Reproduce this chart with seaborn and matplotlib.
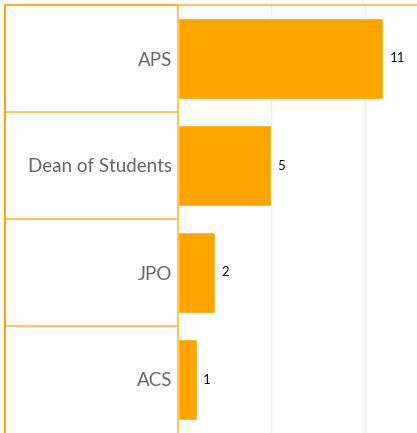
import matplotlib
matplotlib.use("Agg")
import matplotlib.pyplot as plt
import matplotlib.transforms as mtransforms
from matplotlib.lines import Line2D
import seaborn as sns
import pandas as pd

categories = ["APS", "Dean of Students", "JPO", "ACS"]
counts = [11, 5, 2, 1]

sns.set_theme(style="white")
plt.rcParams['font.family'] = ['Lato', 'DejaVu Sans']

W, H = 417, 433
fig = plt.figure(figsize=(W / 100, H / 100), dpi=100)
left_px, top_px = 178, 5
ax = fig.add_axes([left_px / W, 0, (W - left_px) / W, (H - top_px) / H])

df = pd.DataFrame({"cat": categories, "n": counts})
sns.barplot(data=df, y="cat", x="n", orient="h", color="#FFA500",
            saturation=1, width=0.75, ax=ax)

ax.set_xlim(0, 12.8)
ax.set_ylim(3.5, -0.5)
ax.set_xticks([5, 10])
ax.set_xticklabels([])
ax.tick_params(axis="x", length=0)
ax.grid(axis="x", color="#eeeeee", linewidth=1)
ax.set_axisbelow(True)
ax.set_xlabel("")
ax.set_ylabel("")
ax.tick_params(axis="y", length=0, pad=4, labelsize=13.5, labelcolor="#666666")

for s in ["right", "bottom"]:
    ax.spines[s].set_visible(False)
ax.spines["left"].set_color("#FFB84D")
ax.spines["left"].set_linewidth(1.2)
ax.spines["top"].set_color("#FFC266")
ax.spines["top"].set_linewidth(1.5)

for i, v in enumerate(counts):
    ax.text(v + 0.32, i, str(v), va="center", ha="left", fontsize=9.5, color="#111111")

# label column box
line_col = "#FFB84D"
x0 = 5 / W
x1 = left_px / W
trans = mtransforms.blended_transform_factory(fig.transFigure, ax.transData)
for yb in [0.5, 1.5, 2.5]:
    fig.add_artist(Line2D([x0, x1], [yb, yb], transform=trans, color=line_col, linewidth=1.2))
fig.add_artist(Line2D([x0, x0], [0, (H - top_px) / H], transform=fig.transFigure,
                      color="#FFA500", linewidth=1.5))
fig.add_artist(Line2D([x0, x1], [(H - top_px) / H, (H - top_px) / H], transform=fig.transFigure,
                      color="#FFB030", linewidth=1.5))

fig.savefig("out.png", dpi=100)
